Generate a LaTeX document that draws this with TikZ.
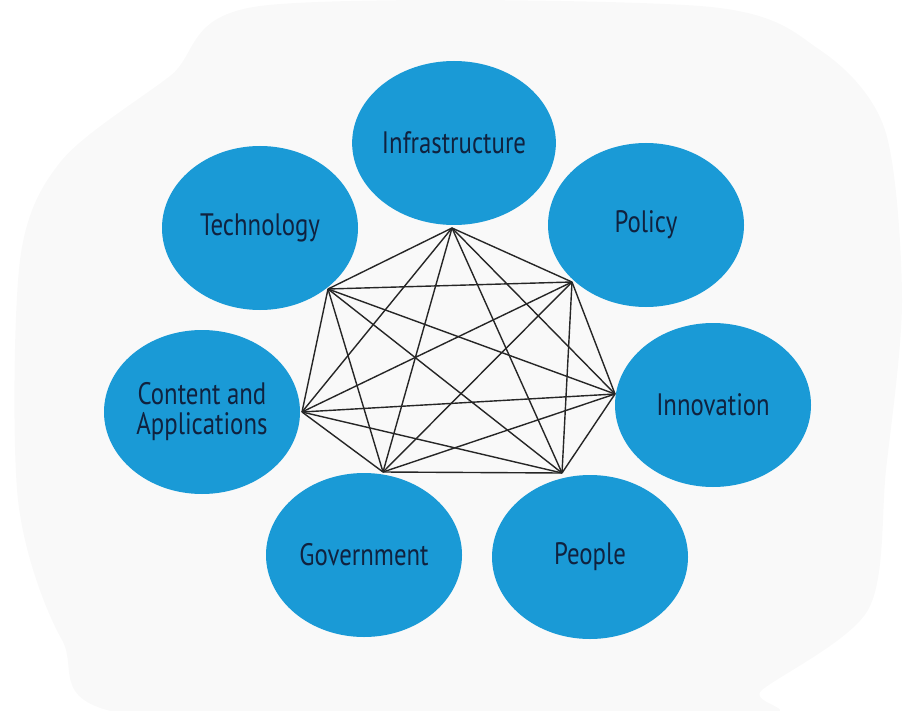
\documentclass[tikz,border=0pt]{standalone}
\usepackage{fontspec}
\setmainfont{PT Sans}[FakeStretch=0.8]
\usetikzlibrary{shapes.geometric}
\definecolor{topicblue}{HTML}{1A9AD6}
\definecolor{topicink}{HTML}{10223F}
\definecolor{blobgray}{HTML}{F9F9F9}

\begin{document}
\begin{tikzpicture}[x=1pt,y=-1pt,
    topic/.style={ellipse, fill=topicblue, text=topicink, minimum width=196pt,
      minimum height=164pt, inner sep=0pt, align=center,
      font=\fontsize{31}{30}\selectfont},
    link/.style={line width=1.4pt, black!85}]
  \useasboundingbox (0,0) rectangle (909,711);

  % faint backdrop
  \fill[blobgray] plot[smooth cycle, tension=0.5] coordinates {
    (260,6) (700,6) (820,50) (885,130) (902,300) (886,470) (868,610)
    (762,690) (740,716) (140,716) (62,640) (18,500) (20,260) (62,160)
    (170,76)};

  \node[topic] (infra) at (454,143) {Infrastructure};
  \node[topic] (policy) at (646,225) {Policy};
  \node[topic] (innov) at (713,405) {Innovation};
  \node[topic] (people) at (590,557) {People};
  \node[topic] (govt) at (364,555) {Government};
  \node[topic] (content) at (202,412) {Content and\\Applications};
  \node[topic] (tech) at (260,228) {Technology};

  % corners of the web
  \coordinate (w1) at (452,228);
  \coordinate (w2) at (572,282);
  \coordinate (w3) at (615,394);
  \coordinate (w4) at (562,473);
  \coordinate (w5) at (383,472);
  \coordinate (w6) at (302,412);
  \coordinate (w7) at (328,289);

  \foreach \a/\b in {1/2,1/3,1/4,1/5,1/6,1/7,2/3,2/4,2/5,2/6,2/7,
                     3/4,3/5,3/6,3/7,4/5,4/6,4/7,5/6,5/7,6/7}
    \draw[link] (w\a) -- (w\b);
\end{tikzpicture}
\end{document}
